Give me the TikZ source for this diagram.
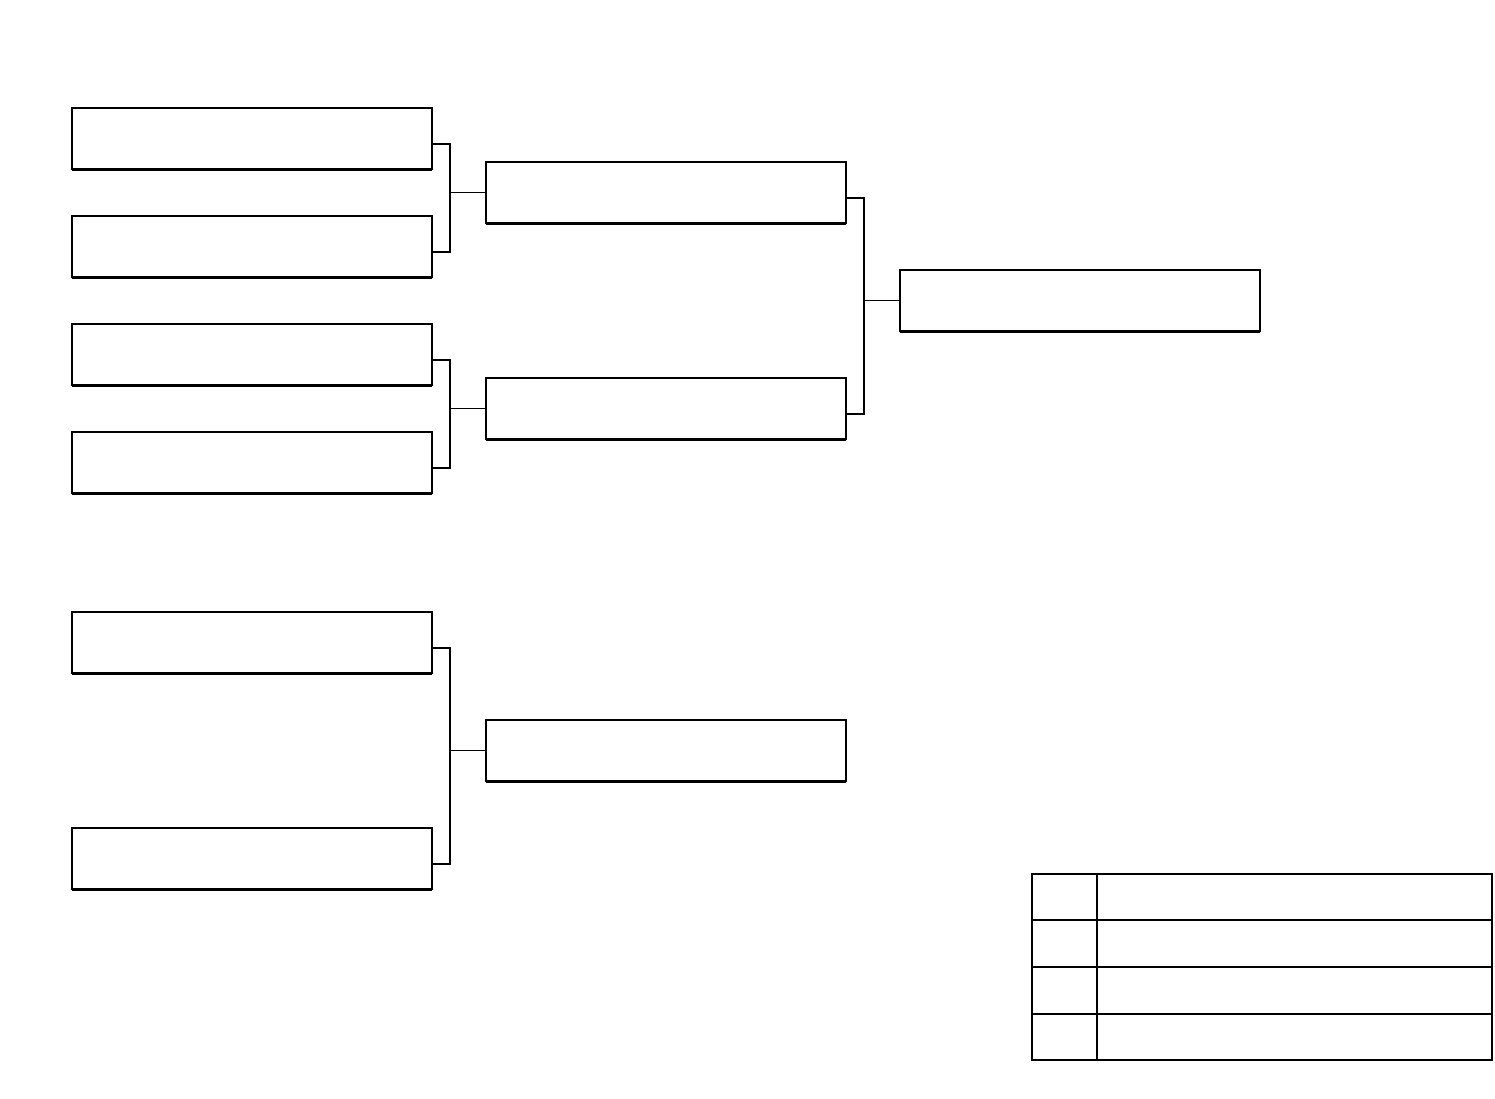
\documentclass[tikz,border=0pt]{standalone}
\usetikzlibrary{calc}
\begin{document}
\begin{tikzpicture}[x=1pt,y=-1pt,
  slot/.style={draw,line width=1.6pt,minimum width=360pt,minimum height=61pt,anchor=north west,inner sep=0pt,outer sep=0pt},
  link/.style={line width=1.5pt}]
\useasboundingbox (0,0) rectangle (1495,1098);
\foreach \n/\x/\y in {a/72/108,b/72/216,c/72/324,d/72/432,e/72/612,f/72/828,g/486/162,h/486/378,i/486/720,j/900/270}{
  \node[slot] (\n) at (\x,\y) {};
  \draw[line width=3pt] (\n.south west) -- (\n.south east);
}
\newcommand{\pairlink}[4]{%
  \draw[link] ($(#1.north east)+(0,36)$) -- ++(#4,0) |- ($(#2.north east)+(0,36)$);
  \draw[link] ($(#1.north east)+(#4,0)$) ++(0,36) coordinate (tmp);
  \draw[link] (#3.west) -- (#3.west -| tmp);
}
\pairlink{a}{b}{g}{18}
\pairlink{c}{d}{h}{18}
\pairlink{e}{f}{i}{18}
\pairlink{g}{h}{j}{18}
% table
\coordinate (t1) at (1032,874);
\coordinate (t2) at (1492,1060);
\draw[line width=1.5pt] (t1) rectangle (t2);
\draw[line width=2pt] (1097,874) -- (1097,1060);
\foreach \yy in {920,967,1014}{\draw[line width=2pt] (1032,\yy) -- (1492,\yy);}
\draw[line width=2.5pt] (1032,1060) -- (1492,1060);
\end{tikzpicture}
\end{document}
